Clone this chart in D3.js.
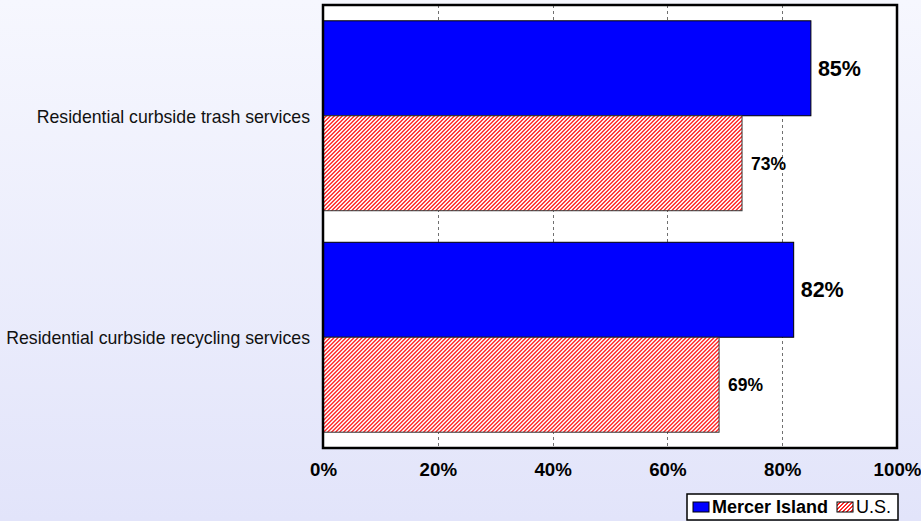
<!DOCTYPE html>
<html>
<head>
<meta charset="utf-8">
<script src="https://cdn.jsdelivr.net/npm/d3@7/dist/d3.min.js"></script>
<style>
  html, body { margin: 0; padding: 0; }
  body { width: 921px; height: 521px; overflow: hidden; font-family: Arial, "Liberation Sans", sans-serif; }
</style>
</head>
<body>
<svg id="chart" width="921" height="521"></svg>
<script>
// Share of residents rating each service (Mercer Island vs. U.S.)
const categories = ["Residential curbside trash services", "Residential curbside recycling services"];
const seriesNames = ["Mercer Island", "U.S."];
const mercerIsland = [85, 82];
const us = [73, 69];
const xTicks = [0, 20, 40, 60, 80, 100];

const FONT = "Arial, 'Liberation Sans', sans-serif";
const svg = d3.select("#chart").attr("font-family", FONT);
const W = 921, H = 521;

const defs = svg.append("defs");
const grad = defs.append("linearGradient").attr("id", "bg").attr("x1", 0).attr("y1", 0).attr("x2", 0).attr("y2", 1);
grad.append("stop").attr("offset", "0%").attr("stop-color", "#f6f7fe");
grad.append("stop").attr("offset", "100%").attr("stop-color", "#e2e4fa");

// pixel diagonal hatch (///): red where (px + py) mod 4 is 0 or 1
const hatch = defs.append("pattern").attr("id", "hatch")
  .attr("patternUnits", "userSpaceOnUse").attr("width", 4).attr("height", 4);
hatch.append("rect").attr("width", 4).attr("height", 4).attr("fill", "#ffffff");
const px = [];
for (let i = 0; i < 4; i++) for (let j = 0; j < 4; j++) if ((i + j) % 4 < 2) px.push([i, j]);
hatch.selectAll("rect.p").data(px).join("rect").attr("class", "p")
  .attr("x", d => d[0]).attr("y", d => d[1]).attr("width", 1).attr("height", 1)
  .attr("fill", "#ff2a2a").attr("shape-rendering", "crispEdges");

svg.append("rect").attr("width", W).attr("height", H).attr("fill", "url(#bg)");

const plot = { left: 323, right: 897, top: 5, bottom: 448 };

const x = d3.scaleLinear().domain([0, 100]).range([plot.left, plot.right]);
const y = d3.scaleBand().domain(categories).range([plot.top, plot.bottom]).paddingInner(0.1425).paddingOuter(0.0713);
const ySub = d3.scaleBand().domain(seriesNames).range([0, y.bandwidth()]);

// plot area
svg.append("rect").attr("x", plot.left).attr("y", plot.top)
  .attr("width", plot.right - plot.left).attr("height", plot.bottom - plot.top)
  .attr("fill", "#ffffff");

// dashed gridlines
svg.append("g").selectAll("line").data(xTicks.filter(t => t > 0 && t < 100)).join("line")
  .attr("x1", d => Math.round(x(d)) + 0.5).attr("x2", d => Math.round(x(d)) + 0.5)
  .attr("y1", plot.top).attr("y2", plot.bottom)
  .attr("stroke", "#707070").attr("stroke-width", 1).attr("stroke-dasharray", "3,3");

const rows = categories.map((c, i) => ({ cat: c, vals: [
  { s: seriesNames[0], v: mercerIsland[i] },
  { s: seriesNames[1], v: us[i] }
]}));

const g = svg.append("g").selectAll("g").data(rows).join("g")
  .attr("transform", d => `translate(0,${y(d.cat)})`);

g.selectAll("rect").data(d => d.vals).join("rect")
  .attr("x", x(0))
  .attr("y", d => ySub(d.s))
  .attr("width", d => x(d.v) - x(0))
  .attr("height", ySub.bandwidth())
  .attr("fill", d => d.s === seriesNames[0] ? "#0000ff" : "url(#hatch)")
  .attr("stroke", d => d.s === seriesNames[0] ? "#000000" : "#333333")
  .attr("stroke-width", 1);

// value labels
g.selectAll("text").data(d => d.vals).join("text")
  .attr("x", d => x(d.v) + (d.s === seriesNames[0] ? 7 : 9))
  .attr("y", d => ySub(d.s) + ySub.bandwidth() / 2)
  .attr("dy", "0.36em")
  .attr("font-weight", "bold")
  .attr("font-size", d => d.s === seriesNames[0] ? "21.5px" : "17.5px")
  .attr("fill", "#000")
  .text(d => d.v + "%");

// category labels
svg.append("g").selectAll("text").data(categories).join("text")
  .attr("x", 310)
  .attr("y", d => y(d) + y.bandwidth() / 2 + 1)
  .attr("dy", "0.35em")
  .attr("text-anchor", "end")
  .attr("font-size", "17.7px")
  .attr("fill", "#111")
  .text(d => d);

// frame
svg.append("rect").attr("x", plot.left).attr("y", plot.top)
  .attr("width", plot.right - plot.left).attr("height", plot.bottom - plot.top)
  .attr("fill", "none").attr("stroke", "#000").attr("stroke-width", 2.5);

// x axis
const xAxis = d3.axisBottom(x).tickValues(xTicks).tickSize(0).tickFormat(d => d + "%");
const ax = svg.append("g").attr("transform", `translate(0,${plot.bottom})`).call(xAxis);
ax.select(".domain").remove();
ax.selectAll("text").attr("y", 21).attr("dy", "0.35em")
  .attr("font-size", "18.7px").attr("font-weight", "bold")
  .attr("font-family", FONT).attr("fill", "#000");

// legend
const lg = svg.append("g").attr("transform", "translate(687,494)");
lg.append("rect").attr("width", 211).attr("height", 26).attr("fill", "#fff").attr("stroke", "#000").attr("stroke-width", 1.5);
const items = [
  { name: seriesNames[0], fill: "#0000ff", x: 6, bold: true },
  { name: seriesNames[1], fill: "url(#hatch)", x: 150, bold: false }
];
items.forEach(it => {
  lg.append("rect").attr("x", it.x).attr("y", 8).attr("width", 16).attr("height", 10)
    .attr("fill", it.fill).attr("stroke", "#000").attr("stroke-width", 1);
  lg.append("text").attr("x", it.x + 19).attr("y", 13).attr("dy", "0.36em")
    .attr("font-size", "18px").attr("font-weight", it.bold ? "bold" : "normal")
    .text(it.name);
});
</script>
</body>
</html>
